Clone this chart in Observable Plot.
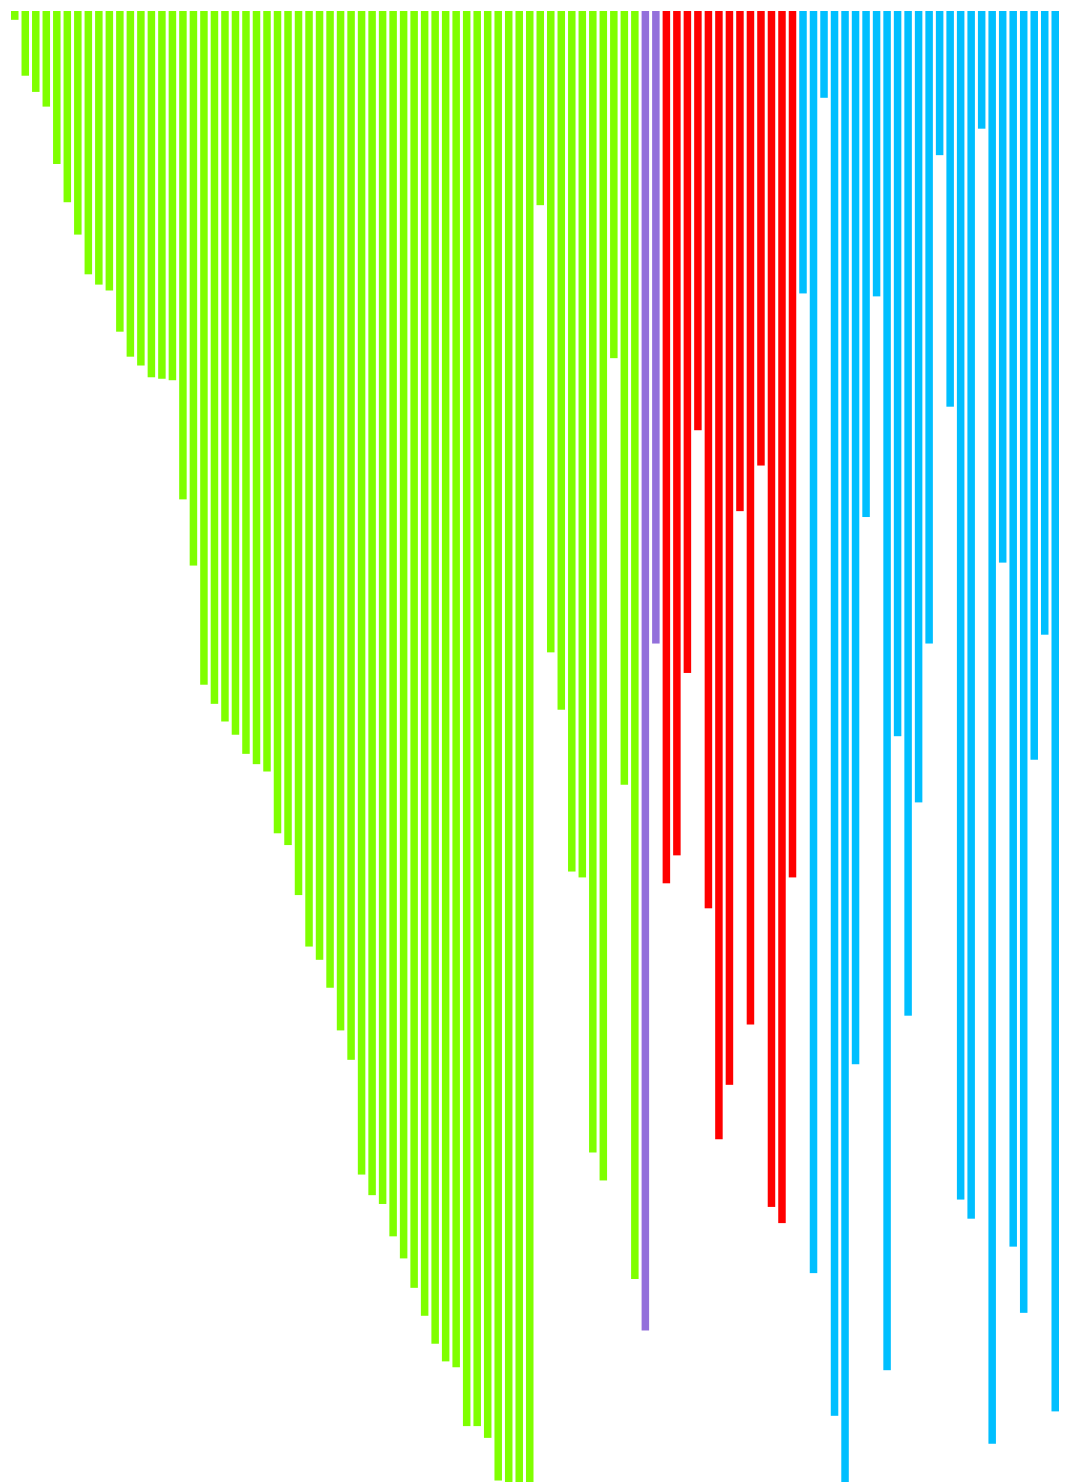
<!DOCTYPE html>
<html>
<head>
<meta charset="utf-8">
<script src="https://cdn.jsdelivr.net/npm/d3@7"></script>
<script src="https://cdn.jsdelivr.net/npm/@observablehq/plot@0.6"></script>
<style>
  html, body { margin: 0; padding: 0; background: #fff; }
  #chart svg { display: block; }
</style>
</head>
<body>
<div id="chart"></div>
<script>
// group names and their colours, left to right
const groups = ['first', 'second', 'third', 'fourth'];
const groupColors = ['#7fff00', '#9370db', '#ff0000', '#00bfff'];

// bar lengths per group (0-100)
const firstValues = [
  0.6, 4.4, 5.5, 6.5, 10.4, 13.0, 15.2, 17.9, 18.6, 19.0,
  21.8, 23.5, 24.1, 24.9, 25.0, 25.1, 33.2, 37.7, 45.8, 47.1,
  48.3, 49.2, 50.5, 51.2, 51.7, 55.9, 56.7, 60.1, 63.6, 64.5,
  66.4, 69.3, 71.3, 79.1, 80.5, 81.1, 83.3, 84.8, 86.8, 88.7,
  90.6, 91.8, 92.2, 96.2, 96.2, 97.0, 99.9, 100, 100, 100,
  13.2, 43.6, 47.5, 58.5, 58.9, 77.6, 79.5, 23.6, 52.6, 86.2
];
const secondValues = [89.7, 43.0];
const thirdValues = [
  59.3, 57.4, 45.0, 28.5, 61.0, 76.7, 73.0, 34.0, 68.9, 30.9,
  81.3, 82.4, 58.9
];
const fourthValues = [
  19.2, 85.8, 5.9, 95.5, 100, 71.6, 34.4, 19.4, 92.4, 49.3,
  68.3, 53.8, 43.0, 9.8, 26.9, 80.8, 82.1, 8.0, 97.4, 37.5,
  84.0, 88.5, 50.9, 42.4, 95.2
];

const seriesByGroup = [firstValues, secondValues, thirdValues, fourthValues];

const rows = [];
groups.forEach((g, gi) => {
  seriesByGroup[gi].forEach((v, i) => {
    rows.push({ id: `${g}-${i + 1}`, group: g, value: v });
  });
});

const chart = Plot.plot({
  width: 1079,
  height: 1482,
  marginTop: 11,
  marginBottom: 0,
  marginLeft: 8,
  marginRight: 17,
  x: { domain: rows.map(d => d.id), padding: 0.286, axis: null },
  y: { domain: [0, 100], reverse: true, axis: null },
  color: { type: 'ordinal', domain: groups, range: groupColors },
  marks: [
    Plot.barY(rows, { x: 'id', y: 'value', fill: 'group' })
  ]
});
document.getElementById('chart').append(chart);
</script>
</body>
</html>
